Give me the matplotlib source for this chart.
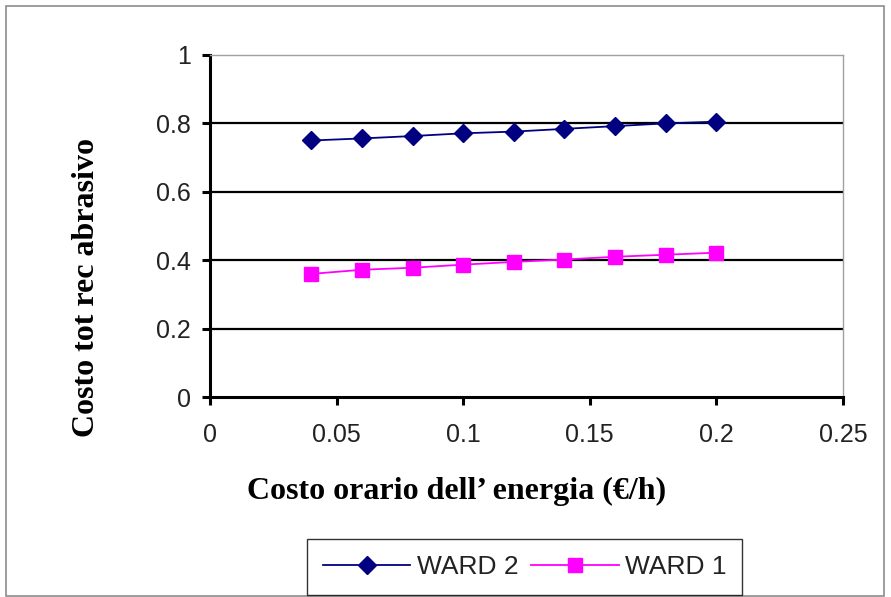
import matplotlib
matplotlib.use('Agg')
import matplotlib.pyplot as plt
from matplotlib.patches import Rectangle

# costo orario dell'energia (euro/h)
energia = [0.04, 0.06, 0.08, 0.10, 0.12, 0.14, 0.16, 0.18, 0.20]
ward2 = [0.750, 0.756, 0.763, 0.771, 0.776, 0.784, 0.792, 0.800, 0.805]
ward1 = [0.360, 0.372, 0.378, 0.387, 0.395, 0.402, 0.410, 0.416, 0.422]

xticks = [0, 0.05, 0.1, 0.15, 0.2, 0.25]
xlabels = ['0', '0.05', '0.1', '0.15', '0.2', '0.25']
yticks = [0, 0.2, 0.4, 0.6, 0.8, 1]
ylabels = ['0', '0.2', '0.4', '0.6', '0.8', '1']

fig = plt.figure(figsize=(8.91, 5.97), dpi=100)
ax = fig.add_axes([0.2357, 0.335, 0.7104, 0.5729])

# outer chart border
fig.patches.append(Rectangle((0.0067, 0.0017), 0.985, 0.988, transform=fig.transFigure,
                             fill=False, edgecolor='#8c8c8c', linewidth=1.2))

ax.plot(energia, ward2, color='#000080', marker='D', markersize=9.5, linewidth=1.3,
        label='WARD 2', zorder=3)
ax.plot(energia, ward1, color='#ff00ff', marker='s', markersize=10, linewidth=1.3,
        label='WARD 1', zorder=3)

ax.set_xlim(0, 0.25)
ax.set_ylim(0, 1)
ax.set_xticks(xticks)
ax.set_xticklabels(xlabels)
ax.set_yticks(yticks)
ax.set_yticklabels(ylabels)

# horizontal gridlines only
for v in yticks[1:-1]:
    ax.axhline(v, color='black', linewidth=1.6, zorder=1)

for s in ['top', 'right']:
    ax.spines[s].set_color('#a0a0a0')
    ax.spines[s].set_linewidth(1.0)
for s in ['left', 'bottom']:
    ax.spines[s].set_color('black')
    ax.spines[s].set_linewidth(2.2)

ax.tick_params(axis='both', direction='out', length=6, width=2.2, labelsize=18,
               labelcolor='#222222')
ax.tick_params(axis='x', pad=13)
ax.tick_params(axis='y', pad=8)
for lab in ax.get_xticklabels() + ax.get_yticklabels():
    lab.set_family('Liberation Sans')

fig.text(0.512, 0.176, "Costo orario dell\u2019 energia (\u20ac/h)", fontsize=23,
         fontweight='bold', family='Liberation Serif', ha='center', va='center')
fig.text(0.0976, 0.519, 'Costo tot rec abrasivo', fontsize=23, fontweight='bold',
         family='Liberation Serif', rotation=90, ha='center', va='center')

leg = fig.legend(loc='center', bbox_to_anchor=(0.589, 0.050), ncol=2, frameon=True,
                 fancybox=False, edgecolor='black',
                 prop={'family': 'Liberation Sans', 'size': 19},
                 handlelength=3.3, columnspacing=0.5, handletextpad=0.25, borderpad=0.6)
leg.get_frame().set_linewidth(1.0)
for t in leg.get_texts():
    t.set_color('#222222')

fig.savefig('out.png', dpi=100)
